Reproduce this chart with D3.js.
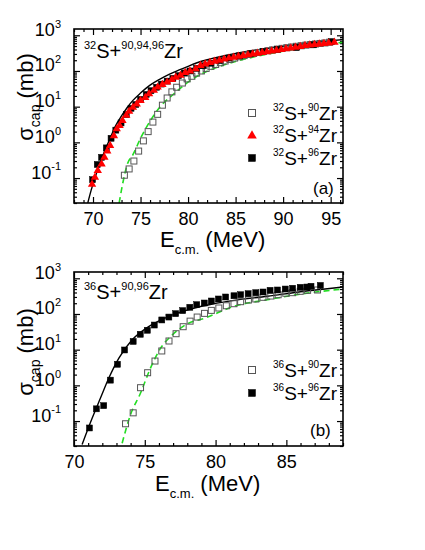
<!DOCTYPE html>
<html><head><meta charset="utf-8">
<script src="https://cdn.jsdelivr.net/npm/d3@7"></script>
<style>body{margin:0;background:#fff} svg{display:block} text{font-family:"Liberation Sans",Arial,Helvetica,sans-serif}</style>
</head><body><svg id="c" width="425" height="550"></svg>
<script>
// ---------- Panel (a): 32S + 90,94,96Zr ----------
const a90E = [73.3,73.8,74.3,74.8,75.3,75.8,76.3,76.8,77.3,77.8,78.3,78.8,79.4,79.9,80.4,80.9,81.4,81.9,82.4,82.9,83.4,83.9,84.4,84.9,85.4,85.9,86.4,86.9,87.4,87.9,88.4,88.9,89.4,89.9,90.4,90.9,91.4,91.9,92.4,92.9,93.4,93.9,94.4,94.9];
const a90S = [0.12,0.18,0.30,0.57,1.1,2.0,3.7,6.1,11,17.5,26,35,46,60,71,87,100,118,135,152,170,190,210,230,250,270,290,310,330,350,370,390,410,430,450,470,490,510,530,550,570,590,610,640];
const a94E = [69.9,70.2,70.5,70.9,71.2,71.5,71.8,72.2,72.5,72.8,73.1,73.5,73.8,74.2,74.6,75.0,75.5,75.9,76.4,76.8,77.3,77.8,78.3,78.7,79.2,79.7,80.2,80.8,81.3,81.8,82.3,82.8,83.3,83.8,84.3,84.8,85.3,85.8,86.3,86.8,87.3,87.8,88.3,88.8,89.3,89.8,90.3,90.8,91.3,91.8,92.3,92.8,93.3,93.8,94.3,94.8,95.4];
const a94S = [0.07,0.11,0.17,0.26,0.40,0.6,0.86,1.6,2.5,3.1,4.3,6.0,7.8,10,12.5,15.5,19,24,30,37,44,51,60,70,80,95,105,120,150,165,180,195,210,225,240,255,270,285,300,315,330,345,360,380,400,420,440,460,485,510,540,560,580,600,620,640,670];
const a96E = [69.95,70.45,70.9,71.4,71.9,72.4,72.95,73.5,74.0,74.5,75.0,75.6,76.1,76.7,77.2,77.8,78.4,79.0,79.6,80.2,80.9,81.6,82.4,83.3,84.3,85.4,86.6,87.9,89.4,91.4,93.2,95.1];
const a96S = [0.09,0.24,0.38,0.7,1.3,2.2,3.5,6.0,9.0,11.5,16,22,28,35,43,52,62,74,88,100,118,140,165,195,230,265,305,350,400,450,540,660];
const aSolidE = [69.45,69.8,70.2,70.7,71.2,71.8,72.4,73.0,73.6,74.2,75.0,76.0,77.0,78.0,79.0,80.0,81.5,83,85,87,89,91,93,95,96.3];
const aSolidS = [0.02,0.045,0.1,0.24,0.55,1.3,3.0,5.5,9.5,15,24,40,58,80,105,135,190,240,310,380,450,530,610,700,760];
const aDashE = [72.75,73.1,73.6,74.2,75.0,76.1,77.1,78.2,79.2,80.1,81.3,83,85,87,89,91,93,95,96.3];
const aDashS = [0.02,0.065,0.24,0.45,1.3,4.3,10.2,19.5,33,51,80,125,185,250,320,400,480,570,640];
const aXTicks = [70,75,80,85,90,95];

// ---------- Panel (b): 36S + 90,96Zr ----------
const b90E = [73.64,74.18,74.7,75.2,75.72,76.2,76.71,77.21,77.71,78.2,78.7,79.22,79.7,80.23,80.76,81.3,81.77,82.32,82.84,83.35,83.9,84.42,84.96,85.44,85.98,86.5,87.2];
const b90S = [0.084,0.17,0.86,2.26,4.8,9.2,17.5,28,44,63,82,104,126,147,170,194,221,246,263,293,318,346,380,395,431,460,470];
const b96E = [71.09,71.58,72.1,72.57,73.07,73.57,74.18,74.68,75.18,75.67,76.2,76.7,77.18,77.68,78.18,78.67,79.2,79.7,80.2,80.71,81.3,81.77,82.3,82.84,83.35,83.85,84.37,84.92,85.44,85.98,86.45,86.74,87.4];
const b96S = [0.064,0.22,0.27,1.4,3.9,9.8,17,27,35,49,68,82,102,124,154,182,203,231,263,299,324,346,370,395,413,460,470,500,525,558,569,597,630];
const bSolidE = [70.57,71.28,71.87,72.46,73.17,74.11,75.3,76.71,78.37,79.79,81.3,83.67,86,89];
const bSolidS = [0.022,0.12,0.44,1.6,5.8,19,45,86,141,190,240,313,420,570];
const bDashE = [73.4,73.99,74.7,75.41,76.12,76.95,77.89,79.3,81.3,83.67,86.03,89];
const bDashS = [0.024,0.15,0.61,3.1,11,26,50,78,164,251,363,500];
const bXTicks = [70,75,80,85];

const yMajor = [0.1,1,10,100,1000];
const yMajorExp = ["-1","0","1","2","3"];

const zip = (E,S) => E.map((e,i)=>({E:e,s:S[i]}));
const svg = d3.select("#c");
svg.append("rect").attr("width",425).attr("height",550).attr("fill","#fff");

function rich(sel, parts, mainSize, smallSize){
  // parts: [text, kind] kind: null | 'sup' | 'sub'
  let prev = 0;
  parts.forEach(([t,k])=>{
    const sp = sel.append("tspan").text(t);
    let shift = k==='sup' ? -0.45*mainSize : k==='sub' ? 0.3*mainSize : 0;
    sp.attr("dy", shift - prev).attr("font-size", k ? smallSize : mainSize);
    prev = shift;
  });
}

function panel(o){
  const g = svg.append("g");
  const x = d3.scaleLinear().domain(o.xDom).range([o.x0,o.x1]);
  const y = d3.scaleLog().domain([0.02,1500]).range([o.y1,o.y0]);
  const clipId = "clip"+o.id;
  svg.append("clipPath").attr("id",clipId).append("rect")
    .attr("x",o.x0).attr("y",o.y0).attr("width",o.x1-o.x0).attr("height",o.y1-o.y0);

  const xMinor = d3.range(Math.ceil(o.xDom[0]), Math.floor(o.xDom[1])+1).filter(v=>v%5!==0);
  const yMinor = [];
  for(let k=-2;k<=3;k++) for(let m=2;m<=9;m++){const v=m*Math.pow(10,k); if(v>=0.02&&v<=1500) yMinor.push(v);}

  const style = sel => { sel.select(".domain").remove(); sel.selectAll("line").attr("stroke","#000").attr("stroke-width",1.2); sel.attr("font-family",null).attr("font-size",18); };

  g.append("g").attr("transform",`translate(0,${o.y1})`)
    .call(d3.axisBottom(x).tickValues(o.xTicks).tickSize(-6).tickPadding(9).tickFormat(d3.format("d"))).call(style)
    .selectAll("text").attr("fill","#000");
  g.append("g").attr("transform",`translate(0,${o.y1})`)
    .call(d3.axisBottom(x).tickValues(xMinor).tickSize(-3).tickFormat("")).call(style);
  g.append("g").attr("transform",`translate(0,${o.y0})`)
    .call(d3.axisTop(x).tickValues(o.xTicks).tickSize(-6).tickFormat("")).call(style);
  g.append("g").attr("transform",`translate(0,${o.y0})`)
    .call(d3.axisTop(x).tickValues(xMinor).tickSize(-3).tickFormat("")).call(style);

  const yl = g.append("g").attr("transform",`translate(${o.x0},0)`)
    .call(d3.axisLeft(y).tickValues(yMajor).tickSize(-6).tickPadding(13).tickFormat(()=>"")).call(style);
  yl.selectAll(".tick text").each(function(d,i){
    const t = d3.select(this).attr("fill","#000").attr("dy","0.35em");
    rich(t, [["10",null],[yMajorExp[i],'sup']], 18, 11);
  });
  g.append("g").attr("transform",`translate(${o.x0},0)`)
    .call(d3.axisLeft(y).tickValues(yMinor).tickSize(-3).tickFormat("")).call(style);
  g.append("g").attr("transform",`translate(${o.x1},0)`)
    .call(d3.axisRight(y).tickValues(yMajor).tickSize(-6).tickFormat("")).call(style);
  g.append("g").attr("transform",`translate(${o.x1},0)`)
    .call(d3.axisRight(y).tickValues(yMinor).tickSize(-3).tickFormat("")).call(style);

  const plot = g.append("g").attr("clip-path",`url(#${clipId})`);
  const line = d3.line().x(d=>x(d.E)).y(d=>y(d.s)).curve(d3.curveMonotoneX);

  o.lines.forEach(L=>{
    plot.append("path").datum(L.data).attr("d",line).attr("fill","none")
      .attr("stroke",L.color).attr("stroke-width",L.w).attr("stroke-dasharray",L.dash||null);
  });
  o.points.forEach(P=>{
    const pg = plot.append("g");
    P.data.forEach(d=>{
      if(P.shape==="tri"){
        pg.append("path").attr("d",d3.symbol(d3.symbolTriangle,P.size)())
          .attr("transform",`translate(${x(d.E)},${y(d.s)+0.8})`).attr("fill",P.color);
      } else {
        pg.append("rect").attr("x",x(d.E)-P.size/2).attr("y",y(d.s)-P.size/2)
          .attr("width",P.size).attr("height",P.size)
          .attr("fill",P.open?"none":P.color).attr("stroke",P.color).attr("stroke-width",P.open?1:0.5);
      }
    });
  });

  g.append("rect").attr("x",o.x0).attr("y",o.y0).attr("width",o.x1-o.x0).attr("height",o.y1-o.y0)
    .attr("fill","none").attr("stroke","#000").attr("stroke-width",1.6);

  // title
  rich(g.append("text").attr("x",o.titleX).attr("y",o.titleY).attr("fill","#000"), o.title, 20, 11);
  // legend
  o.legend.forEach((L,i)=>{
    const ly = o.legY[i];
    if(L.shape==="tri"){
      g.append("path").attr("d",d3.symbol(d3.symbolTriangle,L.size)()).attr("transform",`translate(${o.legX},${ly+0.8})`).attr("fill",L.color);
    } else {
      g.append("rect").attr("x",o.legX-L.size/2).attr("y",ly-L.size/2).attr("width",L.size).attr("height",L.size)
        .attr("fill",L.open?"none":L.color).attr("stroke",L.color).attr("stroke-width",L.open?1:0.5);
    }
    rich(g.append("text").attr("x",o.legX+21).attr("y",ly+7).attr("fill","#000"), L.label, 19, 10);
  });
  g.append("text").attr("x",o.tagX).attr("y",o.tagY).attr("font-size",17).attr("fill","#000").text(o.tag);

  // axis titles
  rich(g.append("text").attr("x",o.xtX).attr("y",o.xtY).attr("fill","#000"), [["E",null],["c.m.",'sub'],[" (MeV)",null]], 22, 13);
  rich(g.append("text").attr("transform",`translate(33,${o.ytY}) rotate(-90)`).attr("text-anchor","middle").attr("fill","#000"),
       [["σ",null],["cap",'sub'],[" (mb)",null]], 22, 14);
}

panel({
  id:"a", xDom:[68.0,96.3], x0:74, x1:343, y0:29, y1:203, xTicks:aXTicks,
  lines:[
    {data:zip(aSolidE,aSolidS), color:"#000", w:1.4},
    {data:zip(aDashE,aDashS), color:"#22dd22", w:1.6, dash:"6,4"}
  ],
  points:[
    {data:zip(a90E,a90S), shape:"sq", open:true, color:"#555", size:6},
    {data:zip(a96E,a96S), shape:"sq", color:"#000", size:6},
    {data:zip(a94E,a94S), shape:"tri", color:"#ff0000", size:30}
  ],
  title:[["32",'sup'],["S+",null],["90,94,96",'sup'],["Zr",null]], titleX:84, titleY:58,
  legend:[
    {shape:"sq", open:true, color:"#555", size:7, label:[["32",'sup'],["S+",null],["90",'sup'],["Zr",null]]},
    {shape:"tri", color:"#ff0000", size:40, label:[["32",'sup'],["S+",null],["94",'sup'],["Zr",null]]},
    {shape:"sq", color:"#000", size:7, label:[["32",'sup'],["S+",null],["96",'sup'],["Zr",null]]}
  ], legX:252, legY:[113,135,158],
  tag:"(a)", tagX:313, tagY:194,
  xtX:160, xtY:247, ytY:97
});

panel({
  id:"b", xDom:[70,89], x0:74, x1:343, y0:272, y1:446, xTicks:bXTicks,
  lines:[
    {data:zip(bSolidE,bSolidS), color:"#000", w:1.4},
    {data:zip(bDashE,bDashS), color:"#22dd22", w:1.6, dash:"6,4"}
  ],
  points:[
    {data:zip(b90E,b90S), shape:"sq", open:true, color:"#555", size:6},
    {data:zip(b96E,b96S), shape:"sq", color:"#000", size:6}
  ],
  title:[["36",'sup'],["S+",null],["90,96",'sup'],["Zr",null]], titleX:84, titleY:299,
  legend:[
    {shape:"sq", open:true, color:"#555", size:7, label:[["36",'sup'],["S+",null],["90",'sup'],["Zr",null]]},
    {shape:"sq", color:"#000", size:7, label:[["36",'sup'],["S+",null],["96",'sup'],["Zr",null]]}
  ], legX:252, legY:[370,393],
  tag:"(b)", tagX:310, tagY:436,
  xtX:155, xtY:491, ytY:352
});
</script></body></html>
